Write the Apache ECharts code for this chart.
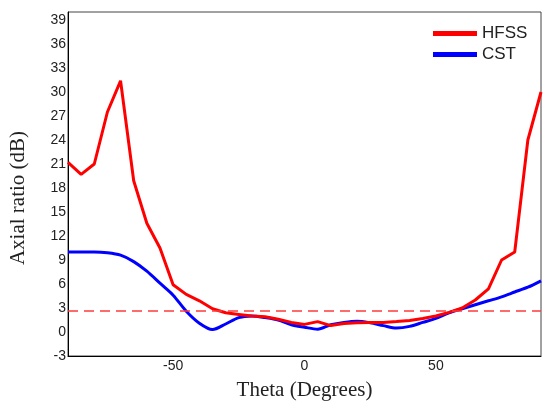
<!DOCTYPE html>
<html>
<head>
<meta charset="utf-8">
<script src="https://cdn.jsdelivr.net/npm/echarts@6/dist/echarts.min.js"></script>
<style>html,body{margin:0;padding:0;background:#fff}#c{width:543px;height:406px}</style>
</head>
<body>
<div id="c"></div>
<script>
var theta = [-90,-85,-80,-75,-70,-65,-60,-55,-50,-45,-40,-35,-30,-25,-20,-15,-10,-5,0,5,10,15,20,25,30,35,40,45,50,55,60,65,70,75,80,85,90];
var hfss = [21.2,19.7,21.0,27.5,31.4,18.9,13.6,10.5,5.9,4.7,3.9,2.9,2.4,2.2,2.0,1.9,1.6,1.2,0.95,1.3,0.8,1.05,1.15,1.2,1.2,1.3,1.45,1.7,2.0,2.45,3.0,4.0,5.4,9.0,10.0,24.0,30.0];
var cst = [10.0,10.0,10.0,9.9,9.6,8.8,7.6,6.1,4.6,2.6,1.1,0.3,1.0,1.8,2.0,1.8,1.5,0.9,0.6,0.35,0.9,1.2,1.35,1.15,0.8,0.5,0.7,1.2,1.7,2.4,2.9,3.4,3.9,4.4,5.0,5.6,6.4];
var xTicks = [-50, 0, 50];
var threshold = 2.7;

function pairs(xs, ys){ return xs.map(function(x,i){ return [x, ys[i]]; }); }

var chart = echarts.init(document.getElementById('c'), null, {renderer:'canvas'});
chart.setOption({
  animation: false,
  backgroundColor: '#fff',
  grid: {left: 68, right: 2, top: 12, bottom: 45, show: true, borderColor: '#444', borderWidth: 1, containLabel: false},
  legend: {
    orient: 'vertical', left: 428, top: 20, itemWidth: 44, itemHeight: 5, itemGap: 4,
    icon: 'rect',
    textStyle: {fontFamily: 'Liberation Sans', fontSize: 17, color: '#222', lineHeight: 16},
    data: ['HFSS', 'CST']
  },
  xAxis: {
    type: 'value', min: -90, max: 90,
    name: 'Theta (Degrees)', nameLocation: 'middle', nameGap: 24,
    nameTextStyle: {fontFamily: 'Liberation Serif', fontSize: 21, color: '#222'},
    axisLine: {onZero: false, lineStyle: {color: '#000', width: 1}},
    axisTick: {show: false},
    splitLine: {show: false},
    axisLabel: {customValues: xTicks, fontFamily: 'Liberation Sans', fontSize: 14, color: '#222', margin: 3}
  },
  yAxis: {
    type: 'value', min: -3, max: 40, interval: 3,
    name: 'Axial ratio (dB)', nameLocation: 'middle', nameGap: 39,
    nameTextStyle: {fontFamily: 'Liberation Serif', fontSize: 21, color: '#222', padding: [0, 28, 0, 0]},
    axisLine: {show: true, onZero: false, lineStyle: {color: '#000', width: 1}},
    axisTick: {show: false},
    splitLine: {show: false},
    axisLabel: {showMaxLabel: false, fontFamily: 'Liberation Sans', fontSize: 14, color: '#222', margin: 2}
  },
  series: [
    {
      name: 'HFSS', type: 'line', data: pairs(theta, hfss), showSymbol: false, smooth: false,
      color: '#ff0000', lineStyle: {color: '#ff0000', width: 3}, z: 3,
      markLine: {
        silent: true, symbol: 'none', label: {show: false},
        lineStyle: {color: '#ff3b3b', width: 1.5, type: [10, 6]},
        data: [{yAxis: threshold}]
      }
    },
    {
      name: 'CST', type: 'line', data: pairs(theta, cst), showSymbol: false, smooth: 0.3,
      color: '#0000ff', lineStyle: {color: '#0000ff', width: 3}, z: 2
    }
  ]
});
</script>
</body>
</html>
